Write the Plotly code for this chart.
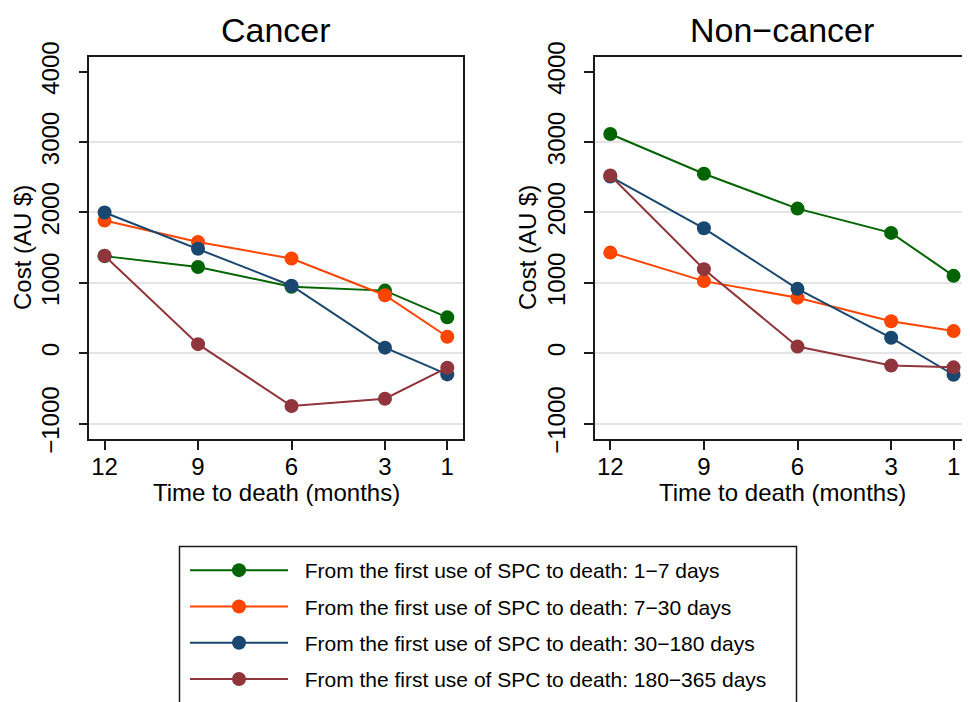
import plotly.graph_objects as go

months = [12, 9, 6, 3, 1]
series_names = [
    "From the first use of SPC to death: 1−7 days",
    "From the first use of SPC to death: 7−30 days",
    "From the first use of SPC to death: 30−180 days",
    "From the first use of SPC to death: 180−365 days",
]
colors = ["#006400", "#ff4500", "#1a476f", "#90353b"]

cancer_1_7 = [1380, 1225, 945, 890, 510]
cancer_7_30 = [1885, 1580, 1345, 825, 235]
cancer_30_180 = [2000, 1485, 960, 80, -300]
cancer_180_365 = [1385, 130, -750, -645, -205]

noncancer_1_7 = [3115, 2550, 2055, 1710, 1100]
noncancer_7_30 = [1430, 1025, 790, 455, 315]
noncancer_30_180 = [2510, 1775, 915, 220, -305]
noncancer_180_365 = [2525, 1195, 95, -175, -200]

cancer = [cancer_1_7, cancer_7_30, cancer_30_180, cancer_180_365]
noncancer = [noncancer_1_7, noncancer_7_30, noncancer_30_180, noncancer_180_365]

y_ticks = [-1000, 0, 1000, 2000, 3000, 4000]
y_tick_text = ["−1000", "0", "1000", "2000", "3000", "4000"]
grid_vals = [-1000, 0, 1000, 2000, 3000]

W, H = 970, 702
OFF = 8  # page body margin offset
FONT = "Liberation Sans, Arial, Helvetica, sans-serif"

def px_x(p):
    return (p - OFF) / W

def px_y(p):
    return 1 - (p - OFF) / H

fig = go.Figure()

for i in range(4):
    fig.add_trace(go.Scatter(
        x=months, y=cancer[i], mode="lines+markers",
        name="\u00a0\u00a0" + series_names[i],
        line=dict(color=colors[i], width=2), marker=dict(color=colors[i], size=14),
        xaxis="x", yaxis="y", legendgroup=f"g{i}", showlegend=True,
    ))
for i in range(4):
    fig.add_trace(go.Scatter(
        x=months, y=noncancer[i], mode="lines+markers", name=series_names[i],
        line=dict(color=colors[i], width=2), marker=dict(color=colors[i], size=14),
        xaxis="x2", yaxis="y2", legendgroup=f"g{i}", showlegend=False,
    ))

ydom = [px_y(439.3), px_y(56.7)]
xdom1 = [px_x(89.3), px_x(462.7)]
xdom2 = [px_x(595), px_x(969)]

def xaxis(dom, anchor):
    return dict(
        domain=dom, anchor=anchor, range=[12.49, 0.505], tickmode="array",
        tickvals=months, ticktext=[str(m) for m in months],
        showline=True, linecolor="#1a1a1a", linewidth=1.5, mirror=True,
        ticks="outside", ticklen=9, tickwidth=1.5, tickcolor="#1a1a1a",
        showgrid=False, zeroline=False, automargin=False, ticklabelstandoff=-4,
        tickfont=dict(family=FONT, size=24, color="black"),
    )

def yaxis(anchor):
    return dict(
        domain=ydom, anchor=anchor, range=[-1222, 4213], tickmode="array",
        tickvals=y_ticks, ticktext=y_tick_text, tickangle=-90,
        showline=True, linecolor="#1a1a1a", linewidth=1.5, mirror=True,
        ticks="outside", ticklen=9, tickwidth=1.5, tickcolor="#1a1a1a",
        showgrid=False, zeroline=False, ticklabelstandoff=10, automargin=False,
        minor=dict(tickmode="array", tickvals=grid_vals, showgrid=True,
                   gridcolor="#e4e4e4", gridwidth=1.5, ticks=""),
        tickfont=dict(family=FONT, size=24, color="black"),
    )

annotations = [
    dict(text="Cancer", x=px_x(276), y=px_y(30), xref="paper", yref="paper",
         showarrow=False, font=dict(family=FONT, size=34, color="black"),
         xanchor="center", yanchor="middle"),
    dict(text="Non−cancer", x=px_x(782), y=px_y(30), xref="paper", yref="paper",
         showarrow=False, font=dict(family=FONT, size=34, color="black"),
         xanchor="center", yanchor="middle"),
    dict(text="Time to death (months)", x=px_x(276), y=px_y(492), xref="paper", yref="paper",
         showarrow=False, font=dict(family=FONT, size=24, color="black"),
         xanchor="center", yanchor="middle"),
    dict(text="Time to death (months)", x=px_x(782), y=px_y(492), xref="paper", yref="paper",
         showarrow=False, font=dict(family=FONT, size=24, color="black"),
         xanchor="center", yanchor="middle"),
    dict(text="Cost (AU $)", x=px_x(22), y=px_y(248), xref="paper", yref="paper",
         showarrow=False, font=dict(family=FONT, size=24, color="black"), textangle=-90,
         xanchor="center", yanchor="middle"),
    dict(text="Cost (AU $)", x=px_x(527), y=px_y(248), xref="paper", yref="paper",
         showarrow=False, font=dict(family=FONT, size=24, color="black"), textangle=-90,
         xanchor="center", yanchor="middle"),
]

shapes = [
    dict(type="rect", xref="paper", yref="paper", x0=px_x(179.5), x1=px_x(796.5),
         y0=px_y(720), y1=px_y(546.5), line=dict(color="#1a1a1a", width=1.5),
         fillcolor="rgba(0,0,0,0)"),
]

fig.update_layout(
    width=W, height=H, margin=dict(l=0, r=0, t=0, b=0, autoexpand=False),
    paper_bgcolor="white", plot_bgcolor="white",
    xaxis=xaxis(xdom1, "y"), yaxis=yaxis("x"),
    xaxis2=xaxis(xdom2, "y2"), yaxis2=yaxis("x2"),
    annotations=annotations, shapes=shapes,
    legend=dict(
        x=px_x(185), y=px_y(550), xanchor="left", yanchor="top",
        bgcolor="rgba(0,0,0,0)", borderwidth=0, itemwidth=98,
        tracegroupgap=6, font=dict(family=FONT, size=21, color="black"),
    ),
    showlegend=True,
)

fig.write_html("out.html")
